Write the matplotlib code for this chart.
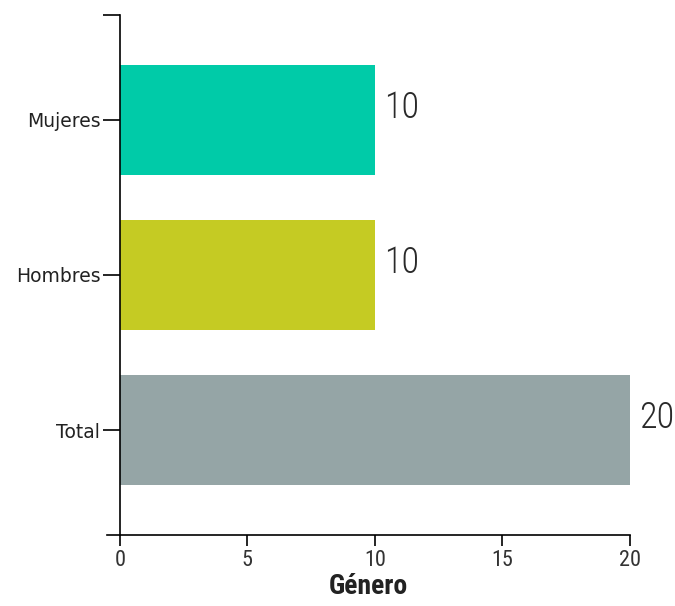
import matplotlib
matplotlib.use("Agg")
import matplotlib.pyplot as plt

# datos
categorias = ["Total", "Hombres", "Mujeres"]
valores = [20, 10, 10]
colores = ["#95a5a6", "#c5cb23", "#00cba8"]
xticks = [0, 5, 10, 15, 20]
titulo_x = "Género"

narrow = ["Roboto Condensed", "Liberation Sans Narrow", "Roboto", "DejaVu Sans"]

fig = plt.figure(figsize=(6.75, 6.06), dpi=100)
ax = fig.add_axes([107 / 675, 1 - 535 / 606, 523 / 675, 520 / 606])

pos = list(range(len(categorias)))
ax.barh(pos, valores, height=0.71, color=colores)

# etiquetas de valor al final de cada barra
for p, v in zip(pos, valores):
    ax.text(v + 0.35, p + 0.08, str(v), ha="left", va="center",
            fontsize=26, fontweight="light", color="#2a2a2a", family=narrow)

ax.set_xlim(-0.5, 20)
ax.set_ylim(-0.677, 2.677)
ax.set_yticks(pos)
ax.set_yticklabels(categorias)
ax.set_yticks([2.677], minor=True)
ax.tick_params(axis="y", which="both", length=12, width=1.2, pad=2,
               labelsize=13.5, labelcolor="#222222")

ax.set_xticks(xticks)
ax.set_xticklabels([str(t) for t in xticks], family=narrow, fontsize=16,
                   color="#333333")
ax.tick_params(axis="x", length=8, width=1.2, pad=3)
ax.set_xlabel(titulo_x, fontsize=20, fontweight="bold", color="#222222",
              family=narrow, labelpad=1)

for s in ["top", "right"]:
    ax.spines[s].set_visible(False)
ax.spines["left"].set_position(("data", 0))
ax.spines["left"].set_linewidth(1.2)
ax.spines["bottom"].set_linewidth(1.2)

fig.savefig("out.png", dpi=100)
